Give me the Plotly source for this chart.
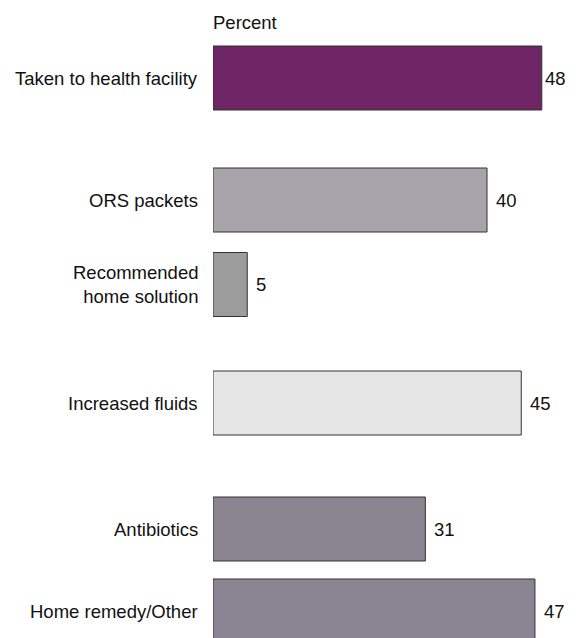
import plotly.graph_objects as go

categories = ["Taken to health facility", "ORS packets", "Recommended<br>home solution",
              "Increased fluids", "Antibiotics", "Home remedy/Other"]
values = [48, 40, 5, 45, 31, 47]
axis_title = "Percent"

# layout (vertical centre of each bar, in page-pixel-like axis units)
positions = [78, 200, 284.5, 403, 529, 611]
colors = ["#6d2565", "#a7a4ab", "#b0b0b0", "#e6e6e6", "#8a8590", "#8a8592"]
patterns = ["", "", ".", "", "", ""]

OFF = 8  # page body margin
W, H = 576 - OFF, 638 - OFF
left = 213 - OFF
px_per_unit = 6.85
visible_right = 568  # rightmost visible page pixel
font = dict(family="Liberation Sans, Arial, sans-serif", size=18.5, color="#111111")

fig = go.Figure(go.Bar(
    x=values, y=positions, orientation="h", width=64,
    marker=dict(color=colors, line=dict(color="#333333", width=1),
                pattern=dict(shape=patterns, fgcolor="#555555", size=2, solidity=0.4,
                             fillmode="overlay")),
    hoverinfo="skip",
))

xmax = (W - left) / px_per_unit
ann = []
for c, v, p in zip(categories, values, positions):
    ann.append(dict(x=0, y=p, text=c, showarrow=False, xanchor="right", yanchor="middle",
                    xshift=-13, align="right", font=font))
    label_w = 10.3 * len(str(v))
    start = 213 + v * px_per_unit + 8
    if start + label_w > visible_right:
        ann.append(dict(x=(visible_right - 213) / px_per_unit, y=p, text=str(v), showarrow=False,
                        xanchor="right", yanchor="middle", xshift=0, font=font))
    else:
        ann.append(dict(x=v, y=p, text=str(v), showarrow=False, xanchor="left", yanchor="middle",
                        xshift=7, font=font))
ann.append(dict(x=0, y=22, text=axis_title, showarrow=False, xanchor="left", yanchor="middle",
                xshift=-2, font=font))

fig.update_layout(
    width=W, height=H, margin=dict(l=left, r=0, t=0, b=0),
    paper_bgcolor="white", plot_bgcolor="white", showlegend=False,
    xaxis=dict(range=[0, xmax], visible=False, fixedrange=True),
    yaxis=dict(range=[638, OFF], visible=False, fixedrange=True),
    annotations=ann,
)
fig.write_html("out.html")
